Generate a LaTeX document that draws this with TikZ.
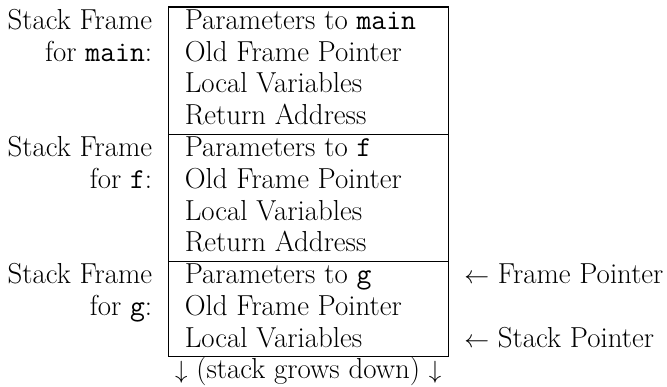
\documentclass[tikz,border=0pt]{standalone}
\begin{document}
\begin{tikzpicture}[x=1pt,y=-1pt,
  txt/.style={inner sep=0pt,font=\fontsize{28.9}{34.7}\selectfont},
  cell/.style={txt,anchor=base west},
  lab/.style={txt,anchor=base east},
  ptr/.style={txt,anchor=base west},
  frameline/.style={line width=1.2pt,line cap=rect}]
\useasboundingbox (0,0) rectangle (667,387);
% box geometry
\coordinate (tl) at (168.3,7);
\coordinate (br) at (448.2,356.7);
\coordinate (d1l) at (168.3,134.2);
\coordinate (d1r) at (448.2,134.2);
\coordinate (d2l) at (168.3,261.4);
\coordinate (d2r) at (448.2,261.4);
\draw[frameline] (tl) rectangle (br);
\draw[frameline] (d1l) -- (d1r);
\draw[frameline] (d2l) -- (d2r);
% frame for main
\node[lab] (lm1) at (152.4,29.3) {Stack Frame};
\node[lab] (lm2) at (152.4,61.1) {for \texttt{main}:};
\node[cell] (m1) at (184.6,29.3) {Parameters to \texttt{main}};
\node[cell] (m2) at (184.6,61.1) {Old Frame Pointer};
\node[cell] (m3) at (184.6,92.9) {Local Variables};
\node[cell] (m4) at (184.6,124.7) {Return Address};
% frame for f
\node[lab] (lf1) at (152.4,156.5) {Stack Frame};
\node[lab] (lf2) at (152.4,188.3) {for \texttt{f}:};
\node[cell] (f1) at (184.6,156.5) {Parameters to \texttt{f}};
\node[cell] (f2) at (184.6,188.3) {Old Frame Pointer};
\node[cell] (f3) at (184.6,220.1) {Local Variables};
\node[cell] (f4) at (184.6,251.9) {Return Address};
% frame for g
\node[lab] (lg1) at (152.4,283.7) {Stack Frame};
\node[lab] (lg2) at (152.4,315.5) {for \texttt{g}:};
\node[cell] (g1) at (184.6,283.7) {Parameters to \texttt{g}};
\node[cell] (g2) at (184.6,315.5) {Old Frame Pointer};
\node[cell] (g3) at (184.6,347.3) {Local Variables};
% pointers
\node[ptr] (fp) at (464.1,283.7) {$\leftarrow$ Frame Pointer};
\node[ptr] (sp) at (464.1,347.3) {$\leftarrow$ Stack Pointer};
% growth note
\node[txt,anchor=base] (grow) at (308.2,379) {$\downarrow$ (stack grows down) $\downarrow$};
\end{tikzpicture}
\end{document}
